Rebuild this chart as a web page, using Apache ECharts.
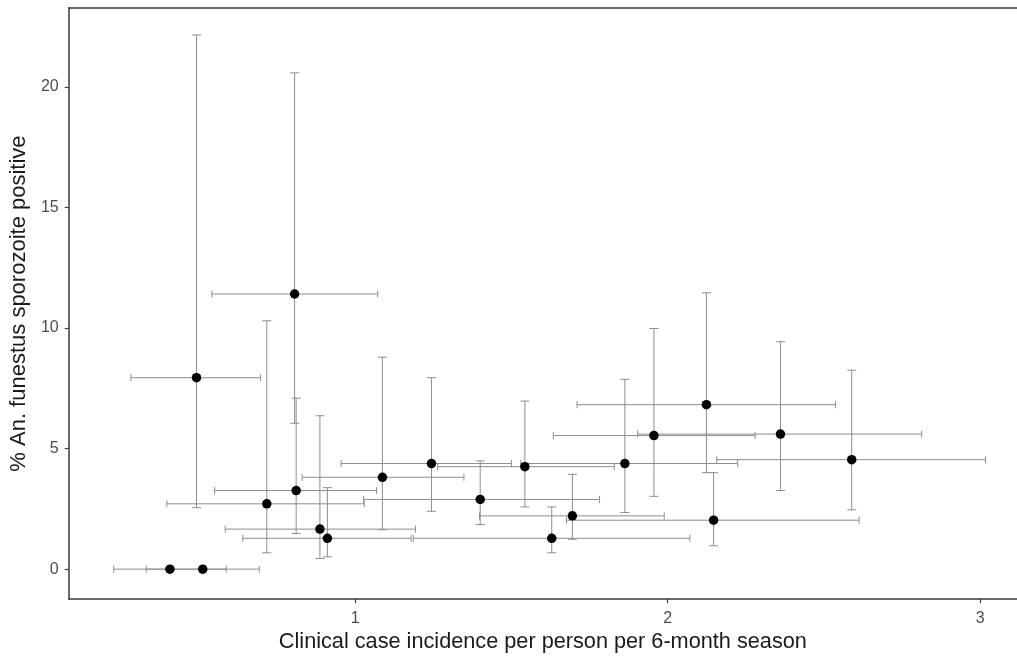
<!DOCTYPE html>
<html>
<head>
<meta charset="utf-8">
<script src="https://cdn.jsdelivr.net/npm/echarts@6/dist/echarts.min.js"></script>
<style>html,body{margin:0;padding:0;background:#fff;}#c{width:1017px;height:658px;}</style>
</head>
<body>
<div id="c"></div>
<script>
var xs  = [0.407, 0.512, 0.492, 0.806, 0.717, 0.811, 0.887, 0.911, 1.087, 1.244, 1.400, 1.543, 1.629, 1.695, 1.863, 1.956, 2.124, 2.147, 2.361, 2.589];
var ys  = [0, 0, 7.94, 11.41, 2.71, 3.26, 1.66, 1.28, 3.81, 4.38, 2.89, 4.25, 1.28, 2.21, 4.38, 5.54, 6.82, 2.03, 5.60, 4.54];
var xLo = [0.227, 0.331, 0.282, 0.541, 0.397, 0.550, 0.584, 0.640, 0.830, 0.955, 1.027, 1.264, 1.186, 1.398, 1.530, 1.634, 1.710, 1.676, 1.904, 2.157];
var xHi = [0.587, 0.693, 0.697, 1.072, 1.029, 1.068, 1.193, 1.179, 1.348, 1.500, 1.782, 1.829, 2.071, 1.989, 2.224, 2.280, 2.537, 2.613, 2.813, 3.017];
var yLo = [0, 0, 2.55, 6.05, 0.68, 1.48, 0.44, 0.51, 1.63, 2.40, 1.85, 2.58, 0.68, 1.24, 2.35, 3.02, 4.00, 0.97, 3.26, 2.46];
var yHi = [0, 0, 22.15, 20.58, 10.30, 7.09, 6.36, 3.38, 8.79, 7.94, 4.49, 6.97, 2.58, 3.93, 7.87, 9.98, 11.46, 4.00, 9.43, 8.25];
var xTicks = [1, 2, 3];
var yTicks = [0, 5, 10, 15, 20];
var xTitle = 'Clinical case incidence per person per 6-month season';
var yTitle = '% An. funestus sporozoite positive';

var errData = xs.map(function (x, i) { return [x, ys[i], xLo[i], xHi[i], yLo[i], yHi[i]]; });
var ptData = xs.map(function (x, i) { return [x, ys[i]]; });

var barStyle = { stroke: '#8e8e8e', lineWidth: 1 };
function renderErr(params, api) {
  var x = api.value(0), y = api.value(1);
  var l = api.coord([api.value(2), y]);
  var r = api.coord([api.value(3), y]);
  var b = api.coord([x, api.value(4)]);
  var t = api.coord([x, api.value(5)]);
  var ch = 3.5, cw = 4.5;
  var children = [
    { type: 'line', shape: { x1: l[0], y1: l[1], x2: r[0], y2: r[1] }, style: barStyle },
    { type: 'line', shape: { x1: l[0], y1: l[1] - ch, x2: l[0], y2: l[1] + ch }, style: barStyle },
    { type: 'line', shape: { x1: r[0], y1: r[1] - ch, x2: r[0], y2: r[1] + ch }, style: barStyle }
  ];
  if (Math.abs(t[1] - b[1]) > 0.5) {
    children.push(
      { type: 'line', shape: { x1: b[0], y1: b[1], x2: t[0], y2: t[1] }, style: barStyle },
      { type: 'line', shape: { x1: b[0] - cw, y1: b[1], x2: b[0] + cw, y2: b[1] }, style: barStyle },
      { type: 'line', shape: { x1: t[0] - cw, y1: t[1], x2: t[0] + cw, y2: t[1] }, style: barStyle }
    );
  }
  return { type: 'group', children: children };
}

var fontMain = 'Liberation Sans, Arial, sans-serif';
var chart = echarts.init(document.getElementById('c'), null, { renderer: 'canvas' });
chart.setOption({
  animation: false,
  backgroundColor: '#ffffff',
  grid: { left: 67, top: 8, right: 0, bottom: 58, show: false },
  xAxis: [{
    type: 'value', min: 0.083, max: 3.118, position: 'bottom',
    name: xTitle, nameLocation: 'middle', nameGap: 31,
    nameTextStyle: { fontFamily: fontMain, fontSize: 21.7, color: '#1a1a1a' },
    axisLine: { show: true, onZero: false, lineStyle: { color: '#3a3a3a', width: 1.5 } },
    axisTick: { show: true, length: 4, lineStyle: { color: '#3a3a3a', width: 1.2 }, customValues: xTicks },
    axisLabel: { customValues: xTicks, margin: 11, fontFamily: fontMain, fontSize: 16, color: '#4d4d4d' },
    splitLine: { show: false }
  }, {
    type: 'value', min: 0.083, max: 3.118, position: 'top',
    axisLine: { show: true, onZero: false, lineStyle: { color: '#3a3a3a', width: 1.5 } },
    axisTick: { show: false }, axisLabel: { show: false }, splitLine: { show: false }
  }],
  yAxis: {
    type: 'value', min: -1.242, max: 23.27,
    name: yTitle, nameLocation: 'middle', nameGap: 38, nameRotate: 90,
    nameTextStyle: { fontFamily: fontMain, fontSize: 22, color: '#1a1a1a' },
    axisLine: { show: true, onZero: false, lineStyle: { color: '#3a3a3a', width: 1.5 } },
    axisTick: { show: true, length: 4, lineStyle: { color: '#3a3a3a', width: 1.2 }, customValues: yTicks },
    axisLabel: { customValues: yTicks, margin: 10, fontFamily: fontMain, fontSize: 16, color: '#4d4d4d' },
    splitLine: { show: false }
  },
  series: [
    { type: 'custom', renderItem: renderErr, data: errData, encode: { x: 0, y: 1 }, z: 2, silent: true, clip: false },
    { type: 'scatter', data: ptData, symbol: 'circle', symbolSize: 9.5, itemStyle: { color: '#000000', opacity: 1 }, z: 3 }
  ]
});
</script>
</body>
</html>
